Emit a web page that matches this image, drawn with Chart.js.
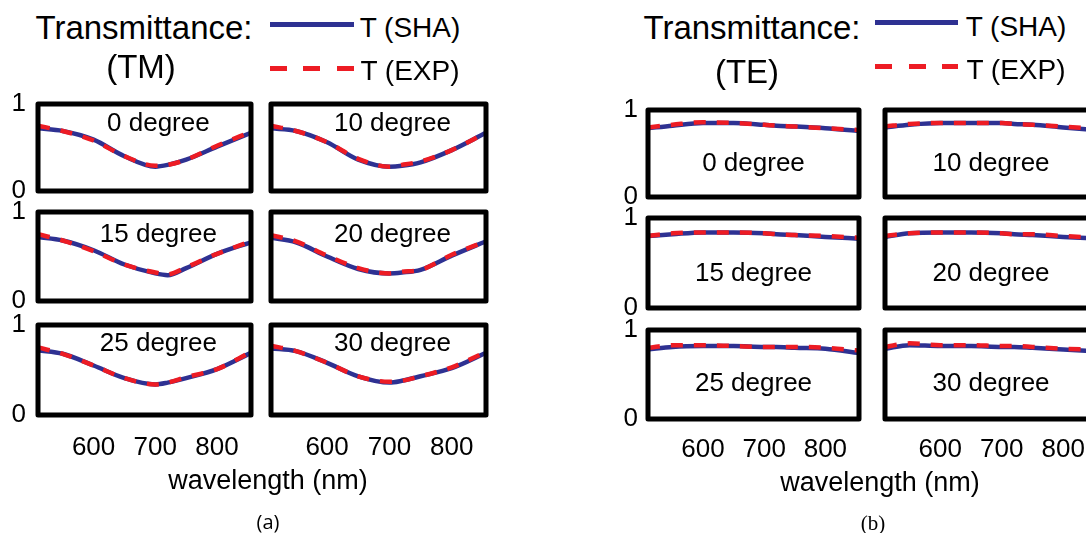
<!DOCTYPE html>
<html>
<head>
<meta charset="utf-8">
<script src="https://cdn.jsdelivr.net/npm/chart.js@4.4.1/dist/chart.umd.min.js"></script>
<style>
  html, body { margin: 0; padding: 0; background: #fff; }
  #page { position: relative; width: 1086px; height: 533px; overflow: hidden; background: #fff; }
  #page canvas { position: absolute; }
  .txt { position: absolute; white-space: nowrap; color: #000; font-family: "Liberation Sans", Arial, sans-serif;
         transform: translate(-50%, -50%); line-height: 1; }
  .leg { position: absolute; height: 5px; }
</style>
</head>
<body>
<div id="page"></div>
<script>
// data
const wavelengths = [510, 550, 600, 650, 700, 720, 750, 800, 855];
const angles = [0, 10, 15, 20, 25, 30];
const xTicks = [600, 700, 800];
const yTicks = [0, 1];

// TM, one row per angle
const tmSHA = [
  [0.72, 0.69, 0.59, 0.40, 0.28, 0.30, 0.36, 0.51, 0.67],
  [0.72, 0.69, 0.56, 0.36, 0.28, 0.29, 0.33, 0.47, 0.67],
  [0.72, 0.68, 0.57, 0.41, 0.31, 0.29, 0.37, 0.53, 0.66],
  [0.71, 0.66, 0.50, 0.36, 0.31, 0.32, 0.35, 0.51, 0.67],
  [0.72, 0.68, 0.55, 0.41, 0.34, 0.36, 0.41, 0.51, 0.69],
  [0.74, 0.71, 0.58, 0.43, 0.36, 0.38, 0.43, 0.52, 0.69]
];
const tmEXP = [
  [0.75, 0.69, 0.58, 0.40, 0.29, 0.30, 0.36, 0.52, 0.68],
  [0.75, 0.69, 0.56, 0.37, 0.28, 0.30, 0.34, 0.47, 0.67],
  [0.75, 0.68, 0.56, 0.41, 0.32, 0.30, 0.38, 0.53, 0.67],
  [0.74, 0.67, 0.51, 0.37, 0.31, 0.33, 0.35, 0.52, 0.67],
  [0.75, 0.68, 0.55, 0.41, 0.34, 0.36, 0.42, 0.51, 0.70],
  [0.77, 0.71, 0.58, 0.43, 0.37, 0.38, 0.43, 0.53, 0.70]
];
// TE
const teSHA = [
  [0.79, 0.82, 0.85, 0.85, 0.83, 0.82, 0.81, 0.79, 0.76],
  [0.80, 0.83, 0.85, 0.85, 0.85, 0.84, 0.83, 0.80, 0.77],
  [0.80, 0.82, 0.84, 0.84, 0.83, 0.82, 0.81, 0.79, 0.77],
  [0.79, 0.83, 0.84, 0.84, 0.83, 0.82, 0.81, 0.79, 0.77],
  [0.78, 0.81, 0.82, 0.82, 0.81, 0.81, 0.80, 0.79, 0.74],
  [0.79, 0.83, 0.82, 0.82, 0.81, 0.81, 0.80, 0.78, 0.76]
];
const teEXP = [
  [0.80, 0.83, 0.86, 0.85, 0.83, 0.82, 0.81, 0.79, 0.77],
  [0.81, 0.84, 0.85, 0.85, 0.85, 0.84, 0.83, 0.81, 0.78],
  [0.80, 0.83, 0.84, 0.84, 0.83, 0.82, 0.81, 0.80, 0.78],
  [0.80, 0.83, 0.84, 0.84, 0.83, 0.82, 0.82, 0.80, 0.78],
  [0.80, 0.83, 0.83, 0.82, 0.81, 0.81, 0.81, 0.80, 0.77],
  [0.81, 0.85, 0.83, 0.83, 0.82, 0.82, 0.81, 0.79, 0.78]
];

const BLUE = '#2E3192';
const RED = '#ED1C24';
const FONT = '"Liberation Sans", Arial, sans-serif';
const page = document.getElementById('page');

// box positions (chart area edges) for each panel
const panels = [
  { sha: tmSHA, exp: tmEXP, cols: [[38, 251], [271, 486]], rows: [[104, 191], [212, 301], [325, 415]],
    fx: 0.565, dy: [20, 23, 19], yPad: 12, xPad: 17 },
  { sha: teSHA, exp: teEXP, cols: [[648, 859], [885, 1097]], rows: [[110, 197], [218, 308], [330, 419]],
    fx: 0.5, dy: [54, 56, 54], yPad: 10, xPad: 15 }
];

// 框と角度ラベル
const frameLabel = {
  id: 'frameLabel',
  afterDatasetsDraw(chart, args, opts) {
    const { ctx, chartArea: a } = chart;
    ctx.save();
    ctx.lineWidth = 5;
    ctx.strokeStyle = '#000';
    ctx.lineJoin = 'round';
    ctx.strokeRect(a.left, a.top, a.right - a.left, a.bottom - a.top);
    ctx.font = '26px ' + FONT;
    ctx.fillStyle = '#000';
    ctx.textAlign = 'center';
    ctx.textBaseline = 'middle';
    ctx.fillText(opts.text, a.left + (a.right - a.left) * opts.fx, a.top + opts.dy);
    ctx.restore();
  }
};

// PT must cover half a tick label plus its padding, or Chart.js pushes the area down
const YW = 40, XH = 50, PT = 32, PR = 8;

panels.forEach(p => {
  angles.forEach((ang, i) => {
    const row = Math.floor(i / 2), col = i % 2;
    const [l, r] = p.cols[col];
    const [t, b] = p.rows[row];
    const cv = document.createElement('canvas');
    cv.width = (r - l) + YW + PR;
    cv.height = (b - t) + PT + XH;
    cv.style.left = (l - YW) + 'px';
    cv.style.top = (t - PT) + 'px';
    page.appendChild(cv);

    new Chart(cv, {
      type: 'line',
      data: {
        datasets: [
          { label: 'T (EXP)', data: wavelengths.map((x, k) => ({ x, y: p.exp[i][k] })),
            borderColor: RED, borderWidth: 4.5, borderDash: [12, 11], pointRadius: 0,
            cubicInterpolationMode: 'monotone', order: 0 },
          { label: 'T (SHA)', data: wavelengths.map((x, k) => ({ x, y: p.sha[i][k] })),
            borderColor: BLUE, borderWidth: 4.5, pointRadius: 0,
            cubicInterpolationMode: 'monotone', order: 1 }
        ]
      },
      options: {
        responsive: false,
        animation: false,
        events: [],
        layout: { padding: { top: PT, right: PR, left: 0, bottom: 0 } },
        plugins: {
          legend: { display: false },
          tooltip: { enabled: false },
          frameLabel: { text: ang + ' degree', fx: p.fx, dy: p.dy[row] }
        },
        scales: {
          x: {
            type: 'linear', min: 510, max: 855,
            grid: { display: false, drawTicks: false }, border: { display: false },
            afterBuildTicks: s => { s.ticks = xTicks.map(v => ({ value: v })); },
            afterFit: s => { s.height = XH; },
            ticks: { display: row === 2, color: '#000', padding: p.xPad, maxRotation: 0, autoSkip: false,
                     font: { family: FONT, size: 26 } }
          },
          y: {
            min: 0, max: 1,
            grid: { display: false, drawTicks: false }, border: { display: false },
            afterBuildTicks: s => { s.ticks = yTicks.map(v => ({ value: v })); },
            afterFit: s => { s.width = YW; },
            ticks: { display: col === 0, color: '#000', padding: p.yPad,
                     font: { family: FONT, size: 26 } }
          }
        }
      },
      plugins: [frameLabel]
    });
  });
});

// texts and legends
function txt(s, x, y, size, family) {
  const d = document.createElement('div');
  d.className = 'txt';
  d.textContent = s;
  d.style.left = x + 'px';
  d.style.top = y + 'px';
  d.style.fontSize = size + 'px';
  if (family) d.style.fontFamily = family;
  page.appendChild(d);
}
function legLine(x, y, w, dashed) {
  const d = document.createElement('div');
  d.className = 'leg';
  d.style.left = x + 'px';
  d.style.top = (y - 2.5) + 'px';
  d.style.width = w + 'px';
  d.style.background = dashed
    ? 'repeating-linear-gradient(90deg, ' + RED + ' 0 17px, transparent 17px 33.5px)'
    : BLUE;
  page.appendChild(d);
}

txt('Transmittance:', 144, 27, 33);
txt('(TM)', 141, 66, 33);
legLine(270, 24, 84, false);
legLine(270, 68, 84, true);
txt('T (SHA)', 410, 28, 28);
txt('T (EXP)', 410, 71, 28);
txt('wavelength (nm)', 268, 480, 27);
txt('(a)', 268, 522, 20, '"Open Sans", sans-serif');

txt('Transmittance:', 752, 27, 33);
txt('(TE)', 747, 71, 33);
legLine(875, 22, 83, false);
legLine(875, 66, 83, true);
txt('T (SHA)', 1016, 27, 28);
txt('T (EXP)', 1016, 70, 28);
txt('wavelength (nm)', 880, 482, 27);
txt('(b)', 873, 523, 21, '"Liberation Serif", serif');
</script>
</body>
</html>
